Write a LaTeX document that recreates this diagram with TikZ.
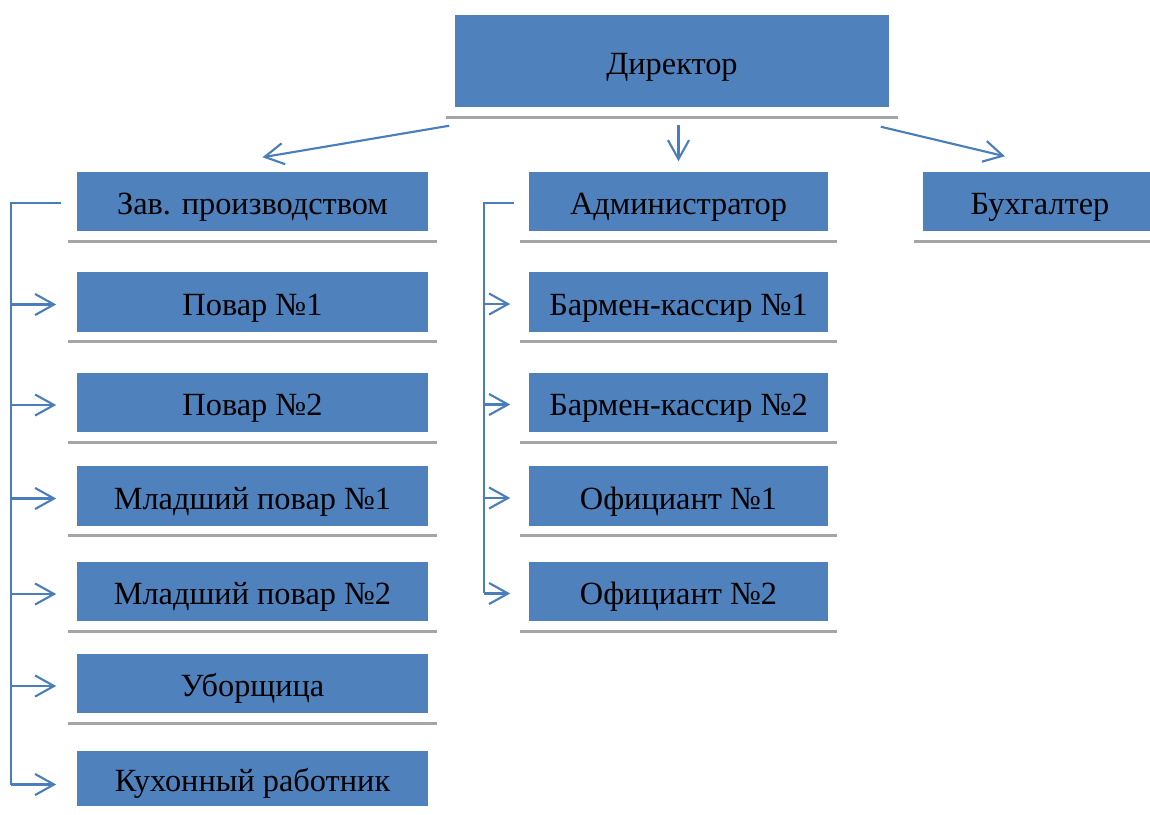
\documentclass[tikz,border=0pt]{standalone}
\usepackage{fontspec}
\setmainfont{Liberation Serif}
\usetikzlibrary{arrows.meta,calc}
\definecolor{boxblue}{HTML}{4F81BD}
\definecolor{lineblue}{HTML}{4A7EBB}
\definecolor{shadowgray}{HTML}{A5A5A5}
\tikzset{
    box/.style={
        rectangle,
        fill=boxblue,
        minimum height=0.59cm,
        inner sep=0pt,
        text height=9.5pt,
        text depth=2pt,
        font=\fontsize{9.2}{11}\selectfont
    },
    leftbox/.style={
        box,
        minimum width=3.51cm
    },
    adminbox/.style={
        box,
        minimum width=2.99cm
    },
    link/.style={
        draw=lineblue,
        line width=0.6pt
    },
    arrow/.style={
        link,
        -{Straight Barb[length=5.4pt,width=6pt]}
    },
    shadowline/.style={
        draw=shadowgray,
        line width=0.9pt
    }
}

\begin{document}
\begin{tikzpicture}[x=0.01cm, y=-0.01cm]
    \useasboundingbox (0,0) rectangle (1150,814);

    \node[box, minimum width=4.34cm, minimum height=0.92cm] (direktor) at (672, 61) {Директор};

    \node[leftbox] (zav) at (252.5, 201.5) {Зав. производством};
    \node[leftbox] (povarone) at (252.5, 302) {Повар №1};
    \node[leftbox] (povartwo) at (252.5, 402.5) {Повар №2};
    \node[leftbox] (mladone) at (252.5, 496) {Младший повар №1};
    \node[leftbox] (mladtwo) at (252.5, 591.5) {Младший повар №2};
    \node[leftbox] (uborsh) at (252.5, 683.5) {Уборщица};
    \node[leftbox, minimum height=0.55cm] (kuhon) at (252.5, 778.5) {Кухонный работник};

    \node[adminbox] (admin) at (678.5, 201.5) {Администратор};
    \node[adminbox] (barmone) at (678.5, 302) {Бармен-кассир №1};
    \node[adminbox] (barmtwo) at (678.5, 402.5) {Бармен-кассир №2};
    \node[adminbox] (oficone) at (678.5, 496) {Официант №1};
    \node[adminbox] (ofictwo) at (678.5, 591.5) {Официант №2};

    \node[box, minimum width=2.34cm] (buh) at (1040, 201.5) {Бухгалтер};

    % grey lines under the boxes
    \foreach \n in {direktor,zav,povarone,povartwo,mladone,mladtwo,uborsh,admin,barmone,barmtwo,oficone,ofictwo,buh} {
        \draw[shadowline] ($(\n.south west)+(-8,9.5)$) -- ($(\n.south east)+(8,9.5)$);
    }

    % from the director
    \draw[arrow] ($(direktor.south west)+(-5,18)$) -- ($(zav.north)+(10,-14)$);
    \draw[arrow] ($(admin.north |- direktor.south)+(0,17)$) -- ($(admin.north)+(0,-10)$);
    \draw[arrow] ($(direktor.south east)+(-9,19)$) -- ($(buh.north)+(-35,-15)$);

    % kitchen
    \coordinate (zavbus) at ($(zav.west)+(-65,1.5)$);
    \draw[link] ($(zav.west)+(-15,1.5)$) -- (zavbus) -- (zavbus |- {$(kuhon.west)+(0,6)$});
    \foreach \n in {povarone,povartwo,mladone,mladtwo,uborsh} {
        \draw[arrow] (zavbus |- {$(\n.west)+(0,2.5)$}) -- ($(\n.west)+(-20,2.5)$);
    }
    \draw[arrow] (zavbus |- {$(kuhon.west)+(0,6)$}) -- ($(kuhon.west)+(-20,6)$);

    % hall
    \coordinate (adminbus) at ($(admin.west)+(-44,1.5)$);
    \draw[link] ($(admin.west)+(-14,1.5)$) -- (adminbus) -- (adminbus |- {$(ofictwo.west)+(0,1)$});
    \foreach \n in {barmone,barmtwo,oficone,ofictwo} {
        \draw[arrow] (adminbus |- {$(\n.west)+(0,2)$}) -- ($(\n.west)+(-18,2)$);
    }

\end{tikzpicture}
\end{document}
